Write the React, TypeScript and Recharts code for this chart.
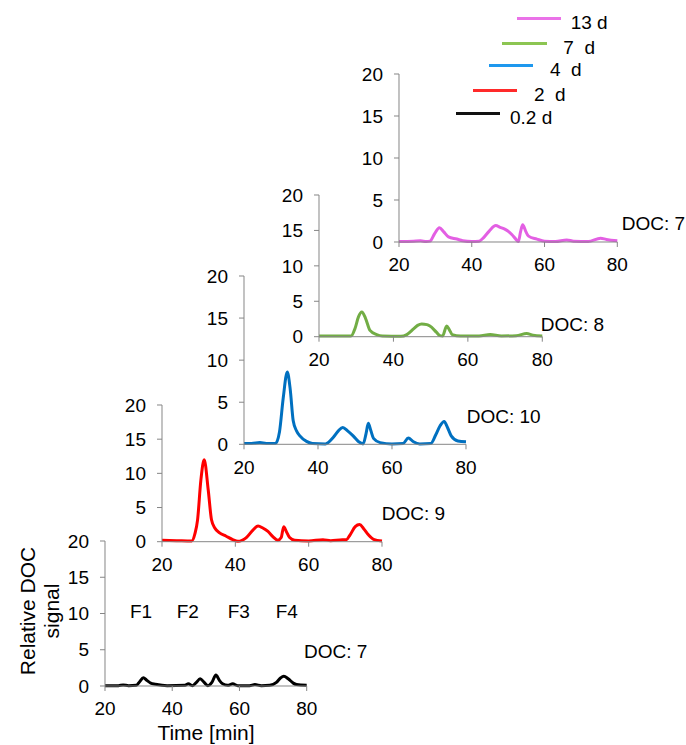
import { LineChart, Line, XAxis, YAxis } from 'recharts';

// series (oldest first)
const seriesNames = ['0.2 d', '2  d', '4  d', '7  d', '13 d'];
const docLabels = ['DOC: 7', 'DOC: 9', 'DOC: 10', 'DOC: 8', 'DOC: 7'];
const fractionLabels = ['F1', 'F2', 'F3', 'F4'];
const xTicks = [20, 40, 60, 80];
const yTicks = [0, 5, 10, 15, 20];

// 0.2 d
const t02 = [20, 24, 25.4, 27, 29.3, 30.3, 31.4, 32.4, 33.6, 35, 38.5, 43.8, 44.8, 46, 47.2, 48.3, 49.5, 50.6, 51.8, 53, 54, 55, 56.5, 58, 59.5, 63, 64.6, 66.5, 69, 71, 72.2, 73.2, 74.5, 76, 77, 80];
const v02 = [0.05, 0.05, 0.15, 0.05, 0.1, 0.6, 1.15, 0.8, 0.4, 0.25, 0.05, 0.1, 0.3, 0.05, 0.5, 1.0, 0.5, 0.05, 0.5, 1.5, 0.8, 0.3, 0.1, 0.3, 0.05, 0.05, 0.2, 0.05, 0.1, 0.5, 1.1, 1.35, 1.0, 0.4, 0.2, 0.1];

// 2 d
const t2 = [20, 24, 28.1, 29, 29.7, 30.6, 31.5, 32.6, 33.5, 34.4, 35.7, 37.5, 39.3, 40.7, 43, 44.8, 46.2, 47.5, 48.9, 50.3, 51.6, 52.5, 53.2, 53.9, 54.8, 56.2, 60, 63.9, 66, 68.5, 70.3, 71.3, 72.7, 73.9, 75, 76.3, 77.7, 80];
const v2 = [0.2, 0.15, 0.1, 1.2, 3.2, 9.0, 12.0, 7.6, 3.2, 2.0, 1.3, 0.8, 0.3, 0.05, 0.6, 1.7, 2.3, 2.0, 1.5, 0.7, 0.2, 0.6, 2.2, 1.5, 0.6, 0.2, 0.1, 0.3, 0.15, 0.25, 0.3, 1.0, 2.2, 2.5, 1.9, 1.0, 0.35, 0.1];

// 4 d
const t4 = [20, 22, 24.3, 26, 28.5, 29.6, 30.6, 31.7, 32.5, 33.3, 34.2, 35.1, 36.9, 38.5, 42, 44.1, 45.5, 46.7, 48, 49.5, 51, 52.2, 53, 53.6, 54.3, 55, 56.8, 60, 63, 64.4, 65.8, 67.5, 70.5, 71.8, 73, 74.1, 75, 76, 77.8, 80];
const v4 = [0.1, 0.1, 0.2, 0.1, 0.1, 1.5, 5.5, 8.6, 6.5, 2.8, 1.6, 1.0, 0.35, 0.1, 0.05, 0.8, 1.6, 2.0, 1.6, 1.0, 0.3, 0.05, 1.3, 2.5, 1.6, 0.7, 0.2, 0.05, 0.1, 0.75, 0.3, 0.05, 0.1, 1.1, 2.2, 2.7, 2.0, 1.0, 0.4, 0.3];

// 7 d
const t7 = [20, 24, 28.6, 29.7, 30.6, 31.5, 32.5, 33.7, 35.5, 37, 42, 43.6, 45.4, 46.5, 47.6, 49, 49.8, 51.6, 52.5, 53.2, 54.3, 55, 55.8, 58, 63, 66, 69, 73, 75.8, 77.5, 80];
const v7 = [0.1, 0.1, 0.1, 1.2, 2.8, 3.5, 2.6, 0.9, 0.3, 0.1, 0.05, 0.3, 1.1, 1.6, 1.8, 1.7, 1.5, 0.6, 0.15, 0.1, 1.5, 1.0, 0.3, 0.1, 0.1, 0.3, 0.1, 0.15, 0.45, 0.2, 0.1];

// 13 d
const t13 = [20, 24, 25.9, 27.5, 28.5, 29.8, 31.1, 32.3, 33.6, 35.9, 37.5, 40, 42, 43.2, 44.8, 46.6, 47.8, 49.2, 51, 52, 52.8, 53.4, 54, 54.8, 55.6, 57.9, 60, 63, 66.1, 68, 72, 75.4, 77, 80];
const v13 = [0.05, 0.1, 0.15, 0.05, 0.1, 1.0, 1.7, 1.2, 0.6, 0.35, 0.15, 0.05, 0.1, 0.5, 1.3, 1.95, 1.75, 1.5, 0.9, 0.4, 0.05, 1.2, 2.05, 1.3, 0.7, 0.35, 0.1, 0.05, 0.25, 0.1, 0.05, 0.45, 0.3, 0.15];

const times = [t02, t2, t4, t7, t13];
const values = [v02, v2, v4, v7, v13];
const colors = ['#000000', '#ff0000', '#0070c0', '#72ad45', '#e35fe3'];
const legendColors = ['#111111', '#ff2a2a', '#1e98ee', '#8cc552', '#ea72e8'];

// plot boxes: left edge of y axis, top (y=20), plot width/height
const boxes = [
  { x: 105, top: 540.7, w: 201.7, h: 145 },
  { x: 162.3, top: 405, w: 220, h: 136.7 },
  { x: 244, top: 275.7, w: 222, h: 168.3 },
  { x: 319, top: 195, w: 223.3, h: 141.7 },
  { x: 399, top: 74.3, w: 218.3, h: 168 },
];
const docPos = [
  { x: 304, y: 651.7 },
  { x: 381.7, y: 513.3 },
  { x: 466.7, y: 416.7 },
  { x: 540.7, y: 324 },
  { x: 621.7, y: 223.3 },
];
const legendPos = [
  { x1: 455.7, x2: 500, y: 113.3, tx: 510 },
  { x1: 472.7, x2: 517.3, y: 90, tx: 534 },
  { x1: 489, x2: 533.3, y: 65.7, tx: 550 },
  { x1: 502.3, x2: 546.7, y: 43.3, tx: 563.3 },
  { x1: 516.7, x2: 561, y: 18.3, tx: 570.7 },
];
const fractionX = [130, 176.7, 227.7, 275.7];

const FONT = '"Liberation Sans", Arial, sans-serif';
const AXIS = '#868686';
const FS = 19;
const tickStyle = { fontSize: FS, fill: '#000', fontFamily: FONT };

function Panel({ idx }: { idx: number }) {
  const box = boxes[idx];
  const data = times[idx].map((t, i) => ({ t, v: values[idx][i] }));
  const yW = 45;
  const xH = 35;
  const m = { top: 10, right: 12, left: 0, bottom: 0 };
  return (
    <div style={{ position: 'absolute', left: box.x - yW, top: box.top - m.top }}>
      <LineChart width={box.w + yW + m.right} height={box.h + m.top + xH} data={data} margin={m}>
        <XAxis
          dataKey="t"
          type="number"
          domain={[20, 80]}
          ticks={xTicks}
          interval={0}
          height={xH}
          tickSize={5}
          tickMargin={11}
          stroke={AXIS}
          tick={tickStyle}
        />
        <YAxis
          type="number"
          domain={[0, 20]}
          ticks={yTicks}
          interval={0}
          width={yW}
          tickSize={5}
          tickMargin={11}
          stroke={AXIS}
          tick={tickStyle}
        />
        <Line
          dataKey="v"
          type="monotone"
          stroke={colors[idx]}
          strokeWidth={3}
          dot={false}
          isAnimationActive={false}
        />
      </LineChart>
    </div>
  );
}

export default function App() {
  const text = { position: 'absolute' as const, fontFamily: FONT, fontSize: FS, lineHeight: `${FS}px`, color: '#000', whiteSpace: 'pre' as const };
  const half = FS * 0.49;
  return (
    <div style={{ position: 'absolute', left: 0, top: 0, width: 686, height: 745, background: '#fff', overflow: 'hidden' }}>
      {boxes.map((_, i) => (
        <Panel key={i} idx={i} />
      ))}
      {docLabels.map((d, i) => (
        <div key={'d' + i} style={{ ...text, left: docPos[i].x, top: docPos[i].y - half }}>
          {d}
        </div>
      ))}
      {fractionLabels.map((f, i) => (
        <div key={'f' + i} style={{ ...text, left: fractionX[i], top: 611 - half }}>
          {f}
        </div>
      ))}
      {seriesNames.map((n, i) => (
        <div key={'l' + i}>
          <div
            style={{
              position: 'absolute',
              left: legendPos[i].x1,
              top: legendPos[i].y - 1.5,
              width: legendPos[i].x2 - legendPos[i].x1,
              height: 3,
              background: legendColors[i],
            }}
          />
          <div style={{ ...text, left: legendPos[i].tx, top: legendPos[i].y + 4 - half }}>{n}</div>
        </div>
      ))}
      <div
        style={{
          position: 'absolute',
          left: 40 - 80,
          top: 611 - 24,
          width: 160,
          height: 48,
          transform: 'rotate(-90deg)',
          textAlign: 'center',
          fontFamily: FONT,
          fontSize: 21,
          lineHeight: '24px',
          color: '#000',
        }}
      >
        Relative DOC
        <br />
        signal
      </div>
      <div
        style={{
          position: 'absolute',
          left: 206 - 80,
          top: 732 - 10,
          width: 160,
          textAlign: 'center',
          fontFamily: FONT,
          fontSize: 21,
          lineHeight: '21px',
          color: '#000',
        }}
      >
        Time [min]
      </div>
    </div>
  );
}
